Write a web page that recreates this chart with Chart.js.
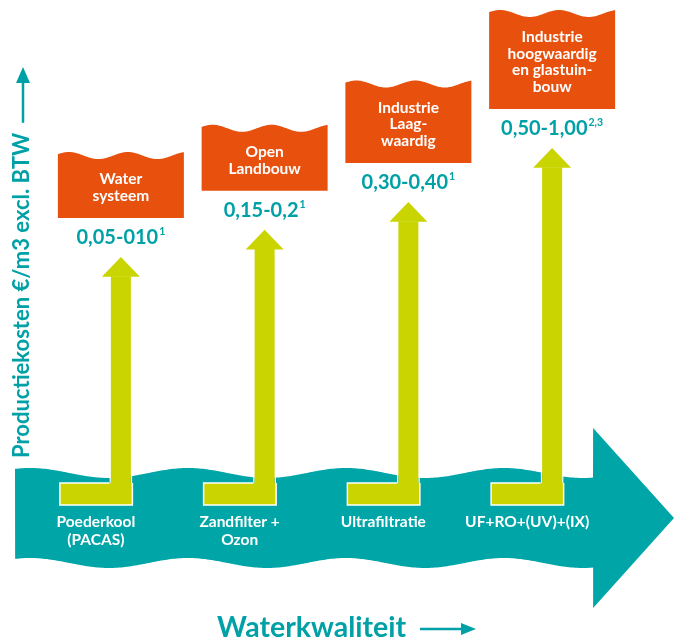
<!DOCTYPE html>
<html>
<head>
<meta charset="utf-8">
<script src="https://cdn.jsdelivr.net/npm/chart.js@4.4.0/dist/chart.umd.min.js"></script>
<style>
  html, body { margin: 0; padding: 0; background: #fff; }
  #wrap { width: 674px; height: 640px; position: relative; }
</style>
</head>
<body>
<div id="wrap"><canvas id="myChart"></canvas></div>
<script>
// data
const techniques = [['Poederkool', '(PACAS)'], ['Zandfilter +', 'Ozon'], ['Ultrafiltratie'], ['UF+RO+(UV)+(IX)']];
const sectors = [['Water', 'systeem'], ['Open', 'Landbouw'], ['Industrie', 'Laag-', 'waardig'], ['Industrie', 'hoogwaardig', 'en glastuin-', 'bouw']];
const costRange = ['0,05-010', '0,15-0,2', '0,30-0,40', '0,50-1,00'];
const costNotes = ['1', '1', '1', '2,3'];
const arrowLevel = [49.1, 54.5, 60.0, 70.7];   // relative height of each arrow tip (0-100)
const yTitle = 'Productiekosten €/m3 excl. BTW';
const xTitle = 'Waterkwaliteit';

const TEAL = '#00a5a8';
const TEXT_TEAL = '#00a1a6';
const YELLOW = '#cad400';
const ORANGE = '#e8500e';
const FONT = 'Lato';
const HEAD = 3.8; // arrow head height in y units

function waveY(px, y0, amp, period, phase) {
    return y0 - amp * Math.cos(2 * Math.PI * (px - phase) / period);
}

const decor = {
    id: 'decor',
    beforeDatasetsDraw(chart) {
        const {ctx, chartArea} = chart;
        const xs = chart.scales.x;
        // teal stream with arrow point
        const left = chartArea.left - 34;
        const right = xs.getPixelForValue(3) + 41;
        const mid = chartArea.bottom + 13;
        const half = 45;
        ctx.save();
        ctx.fillStyle = TEAL;
        ctx.beginPath();
        ctx.moveTo(left, waveY(left, mid - half, 5, 158, 30));
        for (let px = left; px <= right; px += 2) ctx.lineTo(px, waveY(px, mid - half, 5, 158, 30));
        ctx.lineTo(right, mid - 90);
        ctx.lineTo(chart.width, mid);
        ctx.lineTo(right, mid + 90);
        for (let px = right; px >= left; px -= 2) ctx.lineTo(px, waveY(px, mid + half, 5, 158, 30));
        ctx.closePath();
        ctx.fill();

        // technique labels
        ctx.fillStyle = '#fff';
        ctx.font = 'bold 15.5px ' + FONT;
        ctx.textAlign = 'center';
        ctx.textBaseline = 'middle';
        techniques.forEach((lines, i) => {
            const cx = xs.getPixelForValue(i) - 25;
            lines.forEach((t, j) => ctx.fillText(t, cx, chartArea.bottom + 17 + j * 18));
        });
        ctx.restore();
    },
    afterDatasetsDraw(chart) {
        const {ctx, chartArea} = chart;
        const ys = chart.scales.y;
        const bars = chart.getDatasetMeta(0).data;
        ctx.save();
        bars.forEach((bar, i) => {
            const sl = bar.x - bar.width / 2;
            const sr = bar.x + bar.width / 2;
            const base = bar.base;
            const footTop = base - 22;
            const footLeft = bar.x - 61;
            // L-shaped foot
            ctx.fillStyle = YELLOW;
            ctx.fillRect(footLeft, footTop, sr - footLeft, base - footTop);
            ctx.strokeStyle = '#fff';
            ctx.lineWidth = 1.5;
            ctx.beginPath();
            ctx.moveTo(sl, footTop);
            ctx.lineTo(footLeft, footTop);
            ctx.lineTo(footLeft, base);
            ctx.lineTo(sr, base);
            ctx.lineTo(sr, footTop);
            ctx.stroke();

            // arrow head
            const tip = ys.getPixelForValue(arrowLevel[i]);
            const hb = bar.y + 0.5;
            ctx.beginPath();
            ctx.moveTo(bar.x - 19, hb);
            ctx.lineTo(bar.x, tip);
            ctx.lineTo(bar.x + 19, hb);
            ctx.closePath();
            ctx.fillStyle = YELLOW;
            ctx.fill();

            // cost value
            ctx.fillStyle = TEXT_TEAL;
            ctx.textBaseline = 'middle';
            ctx.textAlign = 'left';
            ctx.font = 'bold 20px ' + FONT;
            const w1 = ctx.measureText(costRange[i]).width;
            ctx.font = 'bold 10.5px ' + FONT;
            const w2 = ctx.measureText(costNotes[i]).width;
            const vy = tip - 19;
            const vx = bar.x - (w1 + w2 + 1) / 2;
            ctx.font = 'bold 20px ' + FONT;
            ctx.fillText(costRange[i], vx, vy);
            ctx.font = 'bold 10.5px ' + FONT;
            ctx.fillText(costNotes[i], vx + w1 + 1, vy - 6);

            // sector box with wavy top
            const lines = sectors[i];
            const bb = tip - 39;
            const h = 33 + 16.5 * lines.length;
            const bl = bar.x - 63, br = bar.x + 63;
            const top = bb - h;
            ctx.fillStyle = ORANGE;
            ctx.beginPath();
            ctx.moveTo(bl, bb);
            for (let px = bl; px <= br; px += 1) ctx.lineTo(px, waveY(px, top + 3.5, 3.5, 59, bl + 11));
            ctx.lineTo(br, bb);
            ctx.closePath();
            ctx.fill();
            ctx.fillStyle = '#fff';
            ctx.textAlign = 'center';
            ctx.font = 'bold 15.5px ' + FONT;
            const cy = bb - 16.5 * lines.length / 2 - 14;
            lines.forEach((t, j) => {
                ctx.fillText(t, bar.x, cy + (j - (lines.length - 1) / 2) * 16.5);
            });
        });

        // y title with arrow
        ctx.fillStyle = TEXT_TEAL;
        ctx.strokeStyle = TEXT_TEAL;
        ctx.font = 'bold 22px ' + FONT;
        ctx.textBaseline = 'middle';
        ctx.textAlign = 'left';
        const yw = ctx.measureText(yTitle).width;
        const tx = chartArea.left - 27;
        const tyStart = chartArea.bottom - 47;
        ctx.save();
        ctx.translate(tx, tyStart);
        ctx.rotate(-Math.PI / 2);
        ctx.fillText(yTitle, 0, 0);
        ctx.restore();
        const lineTop = tyStart - yw - 10;
        ctx.lineWidth = 2.5;
        ctx.beginPath();
        ctx.moveTo(tx + 1, lineTop);
        ctx.lineTo(tx + 1, 80);
        ctx.stroke();
        ctx.beginPath();
        ctx.moveTo(tx + 1 - 7, 83);
        ctx.lineTo(tx + 1, 67);
        ctx.lineTo(tx + 1 + 7, 83);
        ctx.closePath();
        ctx.fill();

        // x title with arrow
        ctx.font = 'bold 28.5px ' + FONT;
        const xw = ctx.measureText(xTitle).width;
        const xl = 217;
        const xy = chart.height - 12;
        ctx.fillText(xTitle, xl, xy);
        ctx.beginPath();
        ctx.moveTo(xl + xw + 14, xy + 1);
        ctx.lineTo(463, xy + 1);
        ctx.stroke();
        ctx.beginPath();
        ctx.moveTo(461, xy + 1 - 6);
        ctx.lineTo(476, xy + 1);
        ctx.lineTo(461, xy + 1 + 6);
        ctx.closePath();
        ctx.fill();
        ctx.restore();
    }
};

const ctx1 = document.getElementById('myChart').getContext('2d');
const myChart = new Chart(ctx1, {
    type: 'bar',
    data: {
        labels: techniques,
        datasets: [{
            label: yTitle,
            data: arrowLevel.map(v => v - HEAD),
            backgroundColor: YELLOW,
            borderColor: '#fff',
            borderWidth: {left: 1.5, right: 1.5, top: 0, bottom: 0},
            borderSkipped: false,
            barPercentage: 0.16,
            categoryPercentage: 1
        }]
    },
    options: {
        responsive: true,
        maintainAspectRatio: false,
        animation: false,
        layout: {
            padding: {left: 49, right: 50, top: 0, bottom: 135}
        },
        plugins: {
            legend: {display: false},
            tooltip: {enabled: false}
        },
        scales: {
            x: {display: false},
            y: {display: false, min: 0, max: 100}
        }
    },
    plugins: [decor]
});
</script>
</body>
</html>
